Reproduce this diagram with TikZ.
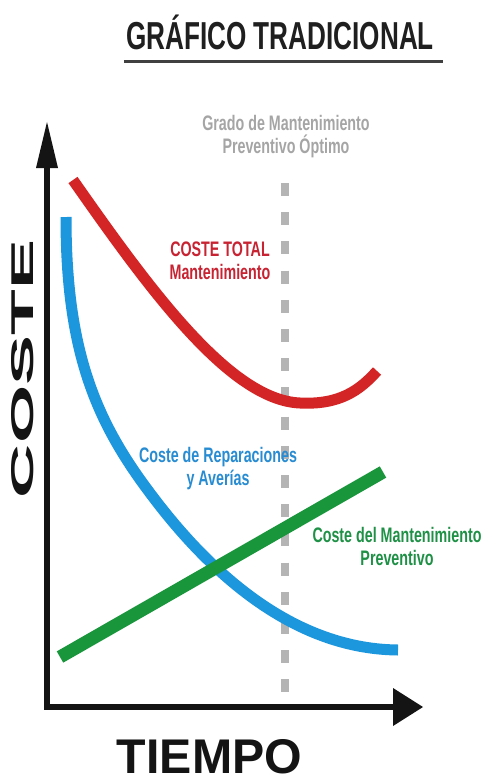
\documentclass[tikz,border=0pt]{standalone}
\usepackage{fontspec}
\usepackage{graphicx}
\setmainfont{Liberation Sans}
\newfontfamily\narrowfont[FakeStretch=0.68]{Liberation Sans}
\newfontfamily\titlefont[FakeStretch=0.67]{Liberation Sans}
\definecolor{cred}{RGB}{212,37,38}
\definecolor{cblue}{RGB}{28,150,220}
\definecolor{cgreen}{RGB}{25,150,60}
\definecolor{tgray}{RGB}{165,165,165}
\definecolor{dgray}{RGB}{180,180,180}
\definecolor{tred}{RGB}{200,35,50}
\definecolor{tblue}{RGB}{40,140,210}
\definecolor{tgreen}{RGB}{30,145,70}
\tikzset{
  lbl/.style={anchor=base, inner sep=0pt, align=center,
    font=\narrowfont\bfseries\fontsize{21}{23}\selectfont},
  curve/.style={line width=11pt},
}
\begin{document}
\begin{tikzpicture}[x=1pt,y=-1pt]
\useasboundingbox (0,0) rectangle (489,781);
\fill[white] (0,0) rectangle (489,781);
% title
\node[anchor=base, inner sep=0pt, text=black!88,
  font=\titlefont\bfseries\fontsize{39}{40}\selectfont] (title) at (280,50) {GRÁFICO TRADICIONAL};
\draw[line width=3pt, black!75] ([xshift=-2pt,yshift=-12pt]title.base west) -- ([xshift=9pt,yshift=-12pt]title.base east);
% optimum line
\draw[dgray, line width=8pt, dash pattern=on 13pt off 16.2pt] (285,183) -- (285,695);
\node[lbl, text=tgray] (opt) at (286,153) {Grado de Mantenimiento\\Preventivo Óptimo};
% curves
\draw[curve, cblue] (66,217) .. controls (66,350) and (95,420) .. (150,493)
  .. controls (200,560) and (285,649) .. (398,650);
\draw[line width=13pt, cgreen] (60,657) -- (383,472);
\draw[curve, cred] (73,180) .. controls (150,290) and (230,400) .. (300,403)
  .. controls (340,405) and (360,390) .. (377,371);
% labels
\node[lbl, text=tred] (tot) at (220,279) {COSTE TOTAL\\Mantenimiento};
\node[lbl, text=tblue] (rep) at (218,485) {Coste de Reparaciones\\y Averías};
\node[lbl, text=tgreen] (prev) at (397,565) {Coste del Mantenimiento\\Preventivo};
% axes
\draw[line width=6pt, black!92, line join=miter] (47,167) -- (47,707) -- (395,707);
\fill[black!92] (47,122) -- (58,168) -- (36,168) -- cycle;
\fill[black!92] (423,707) -- (393,688) -- (393,726) -- cycle;
% axis labels
\node[inner sep=0pt, rotate=90, text=black!92] (ylab) at (23,369) {\resizebox{258pt}{22pt}{\bfseries COSTE}};
\node[inner sep=0pt, text=black!92] (xlab) at (209.5,757) {\resizebox{185pt}{34pt}{\bfseries TIEMPO}};
\end{tikzpicture}
\end{document}
